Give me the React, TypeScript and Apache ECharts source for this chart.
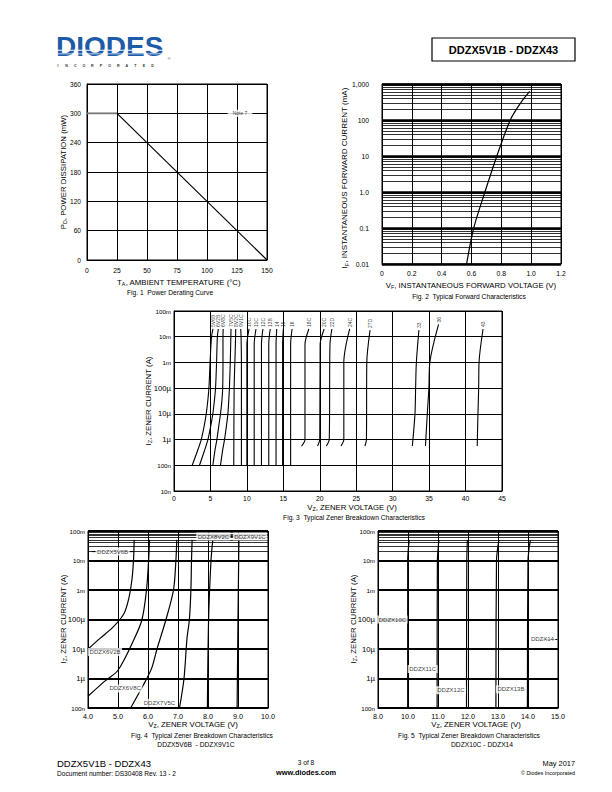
import React, { useEffect, useRef } from "react";
import * as echarts from "echarts";

const FONT = "'Liberation Sans', Arial, Helvetica, sans-serif";
const K = "#000";

// ---------------- Fig. 1 : Power derating ----------------
const fig1XTicks = ["0", "25", "50", "75", "100", "125", "150"];
const fig1YTicks = ["0", "60", "120", "180", "240", "300", "360"];
const fig1Derating = [[0, 300], [25, 300], [150, 0]];
const fig1Notes = [{ name: "Note 7", value: [127.5, 300] }];

// ---------------- Fig. 2 : Forward characteristics ----------------
const fig2XTicks = ["0", "0.2", "0.4", "0.6", "0.8", "1.0", "1.2"];
const fig2YTicks = ["0.01", "0.1", "1.0", "10", "100", "1,000"];
const fig2Forward = [[0.567, 0.01], [0.615, 0.1], [0.69, 1], [0.77, 10], [0.86, 100], [0.93, 300], [0.99, 620]];

// ---------------- Fig. 3 : Zener breakdown, all types ----------------
const fig3XTicks = ["0", "5", "10", "15", "20", "25", "30", "35", "40", "45"];
const fig3YTicks = ["10n", "100n", "1µ", "10µ", "100µ", "1m", "10m", "100m"];
const fig3Names = ["5V6B", "6V2B", "6V8C", "7V5C", "8V2C", "9V1C", "10C", "11C", "12C", "13B", "14", "15", "16", "18C", "20C", "22D", "24C", "27D", "33", "36", "43"];
const fig3Curves = [
  [[2.5, 1e-7], [3.2, 3.5e-7], [3.74, 1e-6], [4.15, 3.5e-6], [4.42, 1e-5], [4.65, 3.5e-5], [4.79, 1e-4], [4.95, 1e-3], [5.15, 1e-2], [5.35, 2e-2]],
  [[3.5, 1e-7], [4.15, 3.5e-7], [4.65, 1e-6], [5.05, 3.5e-6], [5.33, 1e-5], [5.55, 3.5e-5], [5.7, 1e-4], [5.84, 1e-3], [5.95, 1e-2], [6.08, 2e-2]],
  [[5.33, 1e-7], [5.6, 3.5e-7], [5.88, 1e-6], [6.15, 3.5e-6], [6.38, 1e-5], [6.58, 3.5e-5], [6.68, 1e-4], [6.72, 1e-3], [6.72, 1e-2], [6.75, 2e-2]],
  [[6.38, 1e-7], [6.65, 3.5e-7], [6.93, 1e-6], [7.2, 3.5e-6], [7.39, 1e-5], [7.52, 3.5e-5], [7.6, 1e-4], [7.72, 1e-3], [7.8, 1e-2], [7.82, 2e-2]],
  [[8.2, 1e-7], [8.25, 1e-4], [8.35, 1e-3], [8.45, 1e-2], [8.47, 2e-2]],
  [[9.25, 1e-7], [9.25, 1e-3], [9.2, 1e-2], [9.15, 2e-2]],
  [[10.0, 1e-7], [10.0, 5e-3], [10.3, 2e-2]],
  [[11.0, 1e-7], [11.0, 5e-3], [11.25, 2e-2]],
  [[12.0, 1e-7], [12.0, 5e-3], [12.2, 2e-2]],
  [[13.0, 1e-7], [13.0, 5e-3], [13.2, 2e-2]],
  [[14.0, 1e-7], [14.0, 5e-3], [14.1, 2e-2]],
  [[14.9, 1e-7], [14.9, 5e-3], [15.0, 2e-2]],
  [[16.0, 1e-7], [16.0, 5e-3], [16.2, 2e-2]],
  [[17.5, 5.6e-7], [17.97, 1e-6], [17.97, 5e-3], [18.5, 2e-2]],
  [[19.7, 5.6e-7], [20.0, 1e-6], [20.05, 5e-3], [20.6, 2e-2]],
  [[20.9, 5.6e-7], [21.3, 1e-6], [21.4, 5e-3], [21.66, 2e-2]],
  [[22.9, 5.6e-7], [23.3, 1e-6], [23.3, 1e-3], [24.1, 2e-2]],
  [[26.2, 5.6e-7], [26.4, 1e-6], [26.45, 1e-3], [26.9, 1.8e-2]],
  [[32.7, 5.6e-7], [33.06, 1e-5], [33.15, 1e-4], [33.25, 1e-3], [33.6, 1.8e-2]],
  [[34.5, 5.6e-7], [34.75, 1e-5], [34.97, 1e-4], [35.1, 1e-3], [36.3, 3e-2]],
  [[41.6, 5.6e-7], [41.7, 1e-5], [41.8, 1e-4], [41.85, 1e-3], [42.4, 2e-2]],
];

// ---------------- Fig. 4 : DDZX5V6B - DDZX9V1C ----------------
const fig4XTicks = ["4.0", "5.0", "6.0", "7.0", "8.0", "9.0", "10.0"];
const fig45YTicks = ["100n", "1µ", "10µ", "100µ", "1m", "10m", "100m"];
const fig4Curves = [
  [[4.0, 1e-5], [4.4, 2.3e-5], [4.85, 5.7e-5], [5.2, 1.6e-4], [5.36, 5.2e-4], [5.47, 2.5e-3], [5.52, 1.2e-2], [5.54, 5e-2]],
  [[4.0, 2.5e-7], [4.55, 8e-7], [5.0, 1.9e-6], [5.55, 2.3e-5], [5.8, 1e-4], [5.95, 1e-3], [6.02, 1e-2], [6.05, 5e-2]],
  [[5.42, 1e-7], [5.84, 5.9e-7], [6.12, 2.2e-6], [6.3, 1e-5], [6.6, 1e-4], [6.85, 1e-3], [6.93, 1e-2], [6.96, 5e-2]],
  [[7.05, 1e-7], [7.2, 1e-6], [7.3, 2.3e-5], [7.38, 1e-4], [7.43, 1e-3], [7.45, 1e-2], [7.47, 5e-2]],
  [[7.98, 1e-7], [8.02, 1e-4], [8.1, 1e-2], [8.16, 5e-2]],
  [[8.97, 1e-7], [9.0, 1e-4], [9.03, 5e-2]],
];
const fig4Leaders = [
  [[4.13, 2e-2], [5.53, 2e-2]],
  [[8.16, 6.5e-2], [9.03, 6.5e-2]],
];
const fig4Labels = [
  { name: "DDZX5V6B", value: [4.82, 2e-2] },
  { name: "DDZX6V2B", value: [4.57, 7.9e-6] },
  { name: "DDZX6V8C", value: [5.24, 4.6e-7] },
  { name: "DDZX7V5C", value: [6.38, 1.5e-7] },
  { name: "DDZX8V2C", value: [8.18, 6.5e-2] },
  { name: "DDZX9V1C", value: [9.4, 6.5e-2] },
];

// ---------------- Fig. 5 : DDZX10C - DDZX14 ----------------
const fig5XTicks = ["8.0", "10.0", "11.0", "12.0", "13.0", "14.0", "15.0"];
const fig5Curves = [
  [[9.99, 1e-7], [9.99, 1e-2], [10.04, 5e-2]],
  [[10.97, 1e-7], [10.98, 1e-2], [11.03, 5e-2]],
  [[11.95, 1e-7], [11.96, 1e-2], [11.98, 5e-2]],
  [[12.93, 1e-7], [12.95, 1e-2], [13.03, 5e-2]],
  [[13.98, 1e-7], [14.0, 1e-2], [14.08, 5e-2]],
];
const fig5Leaders = [[[14.48, 2.1e-5], [14.98, 2.1e-5]]];
const fig5Labels = [
  { name: "DDZX10C", value: [9.48, 1e-4] },
  { name: "DDZX11C", value: [10.49, 2.1e-6] },
  { name: "DDZX12C", value: [11.43, 4e-7] },
  { name: "DDZX13B", value: [13.43, 4.3e-7] },
  { name: "DDZX14", value: [14.48, 2.1e-5] },
];

const MINOR_STEPS = [2, 3, 4, 5, 6, 7, 8, 9];
function minorValues(minExp: number, maxExp: number) {
  const out: number[] = [];
  for (let e = minExp; e < maxExp; e++) for (const m of MINOR_STEPS) out.push(Number((m * Math.pow(10, e)).toPrecision(3)));
  return out;
}

const axisLine = { show: true, onZero: false, lineStyle: { color: K, width: 1 } };

function linAxis(gridIndex: number, min: number, max: number, interval: number, labels: string[], fontSize: number, margin: number) {
  return {
    type: "value", gridIndex, min, max, interval,
    axisLine, axisTick: { show: false },
    axisLabel: {
      color: K, fontSize, margin, fontFamily: FONT, showMinLabel: true, showMaxLabel: true,
      formatter: (v: number) => labels[Math.round((v - min) / interval)] ?? "",
    },
    splitLine: { show: true, lineStyle: { color: K, width: 1 } },
  };
}

function logAxis(gridIndex: number, minExp: number, maxExp: number, labels: string[], decadeWidth: number, fontSize: number, margin: number, bigMicro: boolean) {
  return {
    type: "log", logBase: 10, gridIndex,
    min: Math.pow(10, minExp), max: Math.pow(10, maxExp),
    splitNumber: maxExp - minExp,
    axisLine, axisTick: { show: false },
    axisLabel: {
      color: K, fontSize, margin, fontFamily: FONT, interval: 0, showMinLabel: true, showMaxLabel: true,
      formatter: (v: number) => {
        const s = labels[Math.round(Math.log10(v)) - minExp] ?? "";
        return bigMicro && s.indexOf("µ") >= 0 ? `{b|${s}}` : s;
      },
      rich: { b: { fontSize: fontSize + 1.5, fontFamily: FONT, color: K } },
    },
    splitLine: { show: true, lineStyle: { color: K, width: decadeWidth } },
  };
}

function curveSeries(axis: number, data: number[][], smooth: number, width: number, extra: any = {}) {
  return {
    type: "line", xAxisIndex: axis, yAxisIndex: axis, data, symbol: "none", smooth,
    lineStyle: { color: K, width }, silent: true, z: 3, ...extra,
  };
}

function minorMark(values: number[]) {
  return {
    silent: true, symbol: ["none", "none"], label: { show: false },
    lineStyle: { color: K, width: 0.8, type: "solid" }, emphasis: { disabled: true },
    data: values.map((v) => ({ yAxis: v })),
  };
}

function labelSeries(axis: number, data: any[], label: any) {
  return {
    type: "scatter", xAxisIndex: axis, yAxisIndex: axis, data, symbol: "rect", symbolSize: 1,
    itemStyle: { color: "transparent" }, silent: true, z: 6,
    label: { show: true, position: "inside", formatter: "{b}", color: K, fontFamily: FONT, ...label },
  };
}

function txt(x: number, y: number, text: string, fontSize: number, o: any = {}) {
  return {
    type: "text", x, y, rotation: o.rotation || 0, silent: true, z: 10,
    style: {
      text, fontSize, fontFamily: FONT, fill: o.fill || K, align: o.align || "center", verticalAlign: "middle",
      fontWeight: o.weight || "normal", rich: o.rich,
    },
  };
}

function subTitle(x: number, y: number, main: string, sub: string, rest: string, fs: number, rotation = 0, align = "center") {
  return txt(x, y, `{a|${main}}{s|${sub}}{a|${rest}}`, fs, {
    rotation, align,
    rich: {
      a: { fontSize: fs, fontFamily: FONT, fill: K, lineHeight: fs + 2 },
      s: { fontSize: fs * 0.68, fontFamily: FONT, fill: K, verticalAlign: "bottom" },
    },
  });
}

function buildOption() {
  const series: any[] = [];
  // Fig 1
  series.push(curveSeries(0, fig1Derating.slice(0, 2), 0, 1.8, { lineStyle: { color: "#777", width: 1.8 } }));
  series.push(curveSeries(0, fig1Derating.slice(1), 0, 1.2));
  series.push(labelSeries(0, fig1Notes, { fontSize: 5, backgroundColor: "#fff", padding: [1, 5] }));
  // Fig 2
  series.push(curveSeries(1, fig2Forward, 0.3, 1.2, { markLine: minorMark(minorValues(-2, 3)) }));
  // Fig 3
  fig3Curves.forEach((c) => series.push(curveSeries(2, c, 0.3, 1.1)));
  series.push(labelSeries(2, fig3Names.map((n, i) => {
    const last = fig3Curves[i][fig3Curves[i].length - 1];
    return { name: n, value: [last[0], last[1] * 1.2] };
  }), { fontSize: 5, rotate: 90, align: "left", verticalAlign: "middle" }));
  // Fig 4
  fig4Curves.forEach((c, i) => series.push(curveSeries(3, c, 0.3, 1.2, i === 0 ? { markLine: minorMark(minorValues(-7, -1)) } : {})));
  fig4Leaders.forEach((c) => series.push(curveSeries(3, c, 0, 1)));
  series.push(labelSeries(3, fig4Labels, { fontSize: 6, backgroundColor: "#fff", padding: [1, 1.5] }));
  // Fig 5
  fig5Curves.forEach((c, i) => series.push(curveSeries(4, c, 0.3, 1.2, i === 0 ? { markLine: minorMark(minorValues(-7, -1)) } : {})));
  fig5Leaders.forEach((c) => series.push(curveSeries(4, c, 0, 1)));
  series.push(labelSeries(4, fig5Labels, { fontSize: 6, backgroundColor: "#fff", padding: [1, 1.5] }));

  const incorporated = "INCORPORATED".split("").map((ch, i) => txt(58 + i * 8.6, 66, ch, 3.6, { fill: "#333", weight: "bold" }));

  const graphic: any[] = [
    // header
    txt(56, 46.5, "DIODES", 28, { align: "left", weight: "bold", fill: "#1d5aa8" }),
    { type: "rect", shape: { x: 55, y: 49.8, width: 110, height: 0.9 }, style: { fill: "#fff" }, z: 11, silent: true },
    { type: "rect", shape: { x: 55, y: 53.4, width: 110, height: 0.9 }, style: { fill: "#fff" }, z: 11, silent: true },
    ...incorporated,
    txt(169, 58.5, "®", 4, { fill: "#1d5aa8" }),
    { type: "rect", shape: { x: 432, y: 38, width: 143, height: 23 }, style: { fill: "none", stroke: K, lineWidth: 1.2 }, z: 10, silent: true },
    txt(503.5, 49.5, "DDZX5V1B - DDZX43", 11, { weight: "bold" }),
    // fig 1
    subTitle(63, 172, "P", "D", ", POWER DISSIPATION (mW)", 7.8, Math.PI / 2),
    subTitle(179, 282, "T", "A", ", AMBIENT TEMPERATURE (°C)", 7.8),
    txt(170, 292.5, "Fig. 1  Power Derating Curve", 6.7),
    // fig 2
    subTitle(344, 178, "I", "F", ", INSTANTANEOUS FORWARD CURRENT (mA)", 8, Math.PI / 2),
    subTitle(471, 285, "V", "F", ", INSTANTANEOUS FORWARD VOLTAGE (V)", 7.8),
    txt(469, 296, "Fig. 2  Typical Forward Characteristics", 6.7),
    // fig 3
    subTitle(148, 401, "I", "Z", ", ZENER CURRENT (A)", 7.8, Math.PI / 2),
    subTitle(352, 507, "V", "Z", ", ZENER VOLTAGE (V)", 7.8),
    txt(354, 517.5, "Fig. 3  Typical Zener Breakdown Characteristics", 6.7),
    // fig 4
    subTitle(63, 619, "I", "Z", ", ZENER CURRENT (A)", 7.8, Math.PI / 2),
    subTitle(193, 724, "V", "Z", ", ZENER VOLTAGE (V)", 7.8),
    txt(202, 735, "Fig. 4  Typical Zener Breakdown Characteristics", 6.7),
    txt(196, 744.5, "DDZX5V6B  - DDZX9V1C", 6.7),
    // fig 5
    subTitle(353, 619, "I", "Z", ", ZENER CURRENT (A)", 7.8, Math.PI / 2),
    subTitle(476, 724, "V", "Z", ", ZENER VOLTAGE (V)", 7.8),
    txt(469, 735, "Fig. 5  Typical Zener Breakdown Characteristics", 6.7),
    txt(482, 744.5, "DDZX10C - DDZX14", 6.7),
    // footer
    txt(57, 763, "DDZX5V1B - DDZX43", 9.5, { align: "left" }),
    txt(57, 773, "Document number: DS30408 Rev. 13 - 2", 6.6, { align: "left" }),
    txt(306, 762, "3 of 8", 6.6),
    txt(306, 772.5, "www.diodes.com", 7.4, { weight: "bold" }),
    txt(575, 763, "May 2017", 7.4, { align: "right" }),
    txt(575, 772.5, "© Diodes Incorporated", 5.4, { align: "right" }),
  ];

  const gridBase = { show: true, borderColor: K, borderWidth: 1, backgroundColor: "#fff", containLabel: false };
  return {
    animation: false,
    backgroundColor: "#fff",
    textStyle: { fontFamily: FONT },
    grid: [
      { ...gridBase, left: 87, top: 84, width: 180, height: 176 },
      { ...gridBase, left: 382, top: 84, width: 179, height: 180 },
      { ...gridBase, left: 174, top: 311, width: 328, height: 180 },
      { ...gridBase, left: 88, top: 531, width: 180, height: 177 },
      { ...gridBase, left: 378, top: 531, width: 180, height: 177 },
    ],
    xAxis: [
      linAxis(0, 0, 150, 25, fig1XTicks, 6.8, 7),
      linAxis(1, 0, 1.2, 0.2, fig2XTicks, 6.8, 6),
      linAxis(2, 0, 45, 5, fig3XTicks, 6.8, 4),
      linAxis(3, 4, 10, 1, fig4XTicks, 7.2, 5),
      linAxis(4, 9, 15, 1, fig5XTicks, 7.2, 5),
    ],
    yAxis: [
      linAxis(0, 0, 360, 60, fig1YTicks, 6.6, 6),
      logAxis(1, -2, 3, fig2YTicks, 2.5, 6.8, 13, false),
      logAxis(2, -8, -1, fig3YTicks, 1, 6.2, 3, true),
      logAxis(3, -7, -1, fig45YTicks, 2, 6.2, 3, true),
      logAxis(4, -7, -1, fig45YTicks, 2, 6.2, 3, true),
    ],
    series,
    graphic,
  };
}

export default function App() {
  const ref = useRef<HTMLDivElement>(null);
  useEffect(() => {
    if (!ref.current) return;
    const chart = echarts.init(ref.current, undefined, { renderer: "svg" });
    chart.setOption(buildOption() as any);
    return () => chart.dispose();
  }, []);
  return <div ref={ref} style={{ position: "absolute", left: 0, top: 0, width: 612, height: 792, background: "#fff" }} />;
}
